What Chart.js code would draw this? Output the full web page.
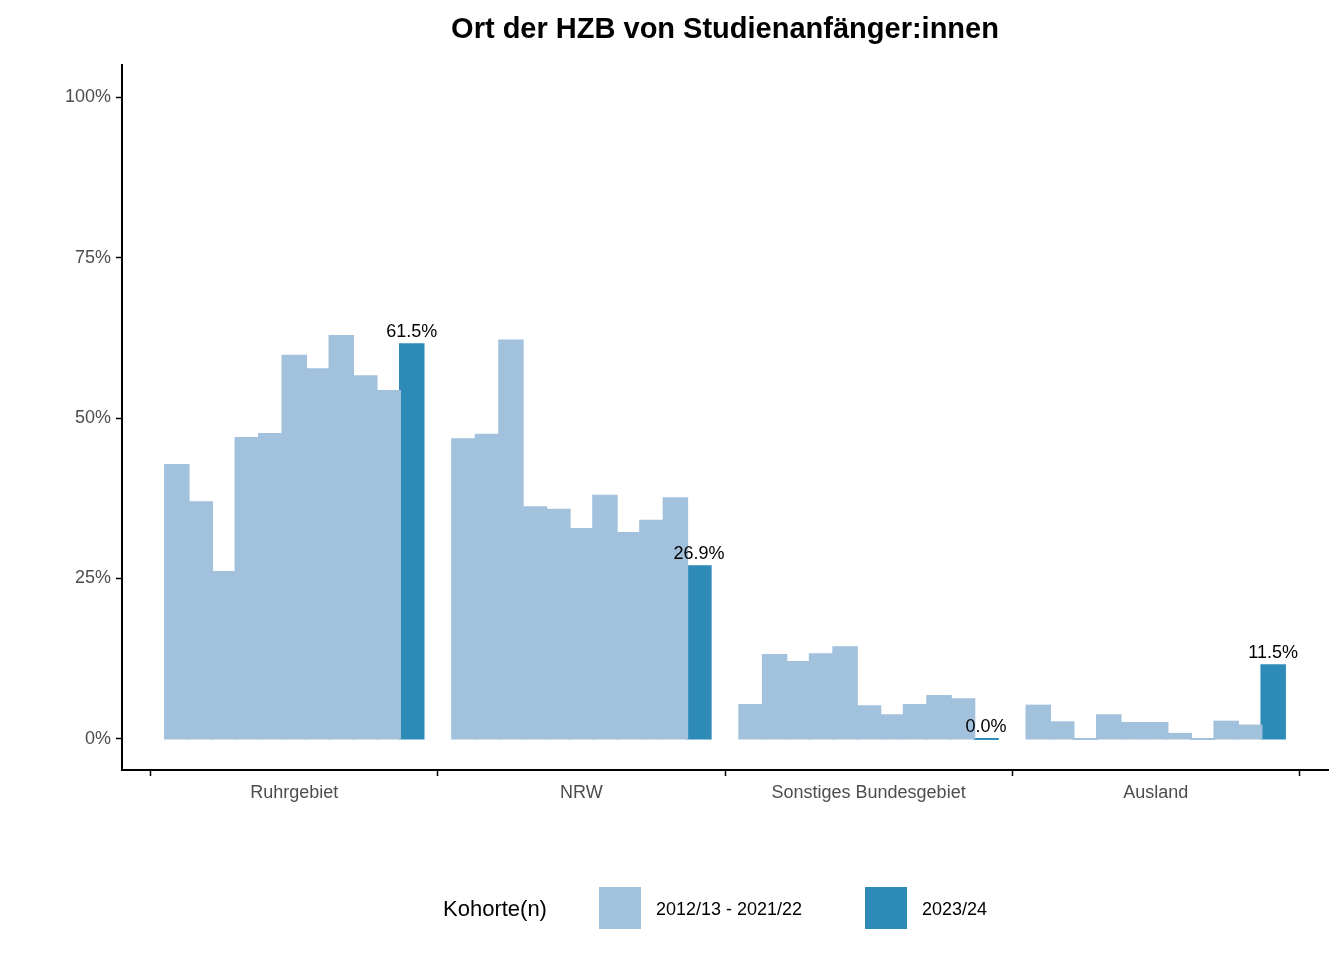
<!DOCTYPE html>
<html><head><meta charset="utf-8">
<script src="https://cdn.jsdelivr.net/npm/chart.js@4"></script>
<style>html,body{margin:0;padding:0;background:#fff}#w{width:1344px;height:960px}</style>
</head><body><div id="w"><canvas id="c"></canvas></div>
<script>
const categories = ["Ruhrgebiet","NRW","Sonstiges Bundesgebiet","Ausland"];
const cohorts = ["2012/13","2013/14","2014/15","2015/16","2016/17","2017/18","2018/19","2019/20","2020/21","2021/22","2023/24"];
const ruhr = [42.7,36.9,26.0,46.9,47.5,59.7,57.6,62.8,56.5,54.2,61.5];
const nrw = [46.7,47.4,62.1,36.1,35.7,32.7,37.9,32.1,34.0,37.5,26.9];
const sonst = [5.3,13.1,12.0,13.2,14.3,5.1,3.7,5.3,6.7,6.2,0.0];
const ausland = [5.2,2.6,0,3.7,2.5,2.5,0.8,0,2.7,2.1,11.5];
const yTicks = [0,25,50,75,100];
const legendLabels = ["2012/13 - 2021/22","2023/24"];
const light = "#A1C1DC", dark = "#2E8BB8";
const series = [ruhr,nrw,sonst,ausland];
const datasets = cohorts.map((c,i)=>({
  label:c,
  data: categories.map((_,k)=>({x:k+1,y:series[k][i]})),
  backgroundColor: i===cohorts.length-1?dark:light,
  borderWidth:0, inflateAmount:1,
  categoryPercentage:0.9, barPercentage:1, grouped:true
}));
const F='"Liberation Sans", Arial';
const deco = {id:'deco', afterDraw(ch){
  const ctx=ch.ctx, a=ch.chartArea;
  ctx.save();
  ctx.fillStyle='#000';ctx.textAlign='center';ctx.textBaseline='middle';
  ctx.font='bold 29px '+F;
  ctx.fillText("Ort der HZB von Studienanfänger:innen",(a.left+a.right)/2,30);
  const m=ch.getDatasetMeta(datasets.length-1);
  ctx.font='18px '+F;ctx.textBaseline='bottom';
  m.data.forEach((b,k)=>{ctx.fillText(series[k][cohorts.length-1].toFixed(1)+'%',b.x,b.y-3);});
  ctx.textBaseline='middle';ctx.textAlign='left';
  ctx.font='22px '+F;ctx.fillText("Kohorte(n)",443,910);
  ctx.font='18px '+F;
  ctx.fillStyle=light;ctx.fillRect(599,887,42,42);
  ctx.fillStyle=dark;ctx.fillRect(865,887,42,42);
  ctx.fillStyle='#000';
  ctx.fillText(legendLabels[0],656,910);ctx.fillText(legendLabels[1],922,910);
  ctx.restore();
}};
const gridOpt={display:true,drawOnChartArea:false,drawTicks:true,tickLength:6,tickColor:'#000',tickWidth:1.5};
new Chart(document.getElementById('c'),{
  type:'bar', data:{datasets},
  options:{responsive:true,maintainAspectRatio:false,animation:false,
    layout:{padding:{top:65,right:16,left:0,bottom:0}},
    plugins:{legend:{display:false},tooltip:{enabled:false}},
    scales:{
      x:{type:'linear',min:0.4,max:4.6,offset:false,
        afterBuildTicks(s){s.ticks=categories.map((_,k)=>({value:k+1}));},
        afterFit(s){s.height=190;},
        grid:gridOpt,
        border:{display:true,color:'#000',width:2},
        ticks:{color:'#4D4D4D',font:{size:18,family:F},padding:6,autoSkip:false,maxRotation:0,
          callback:(v)=>categories[Math.round(v)-1]}},
      y:{min:-4.83,max:105,
        afterBuildTicks(s){s.ticks=yTicks.map(v=>({value:v}));},
        afterFit(s){s.width=122;},
        grid:gridOpt,
        border:{display:true,color:'#000',width:2},
        ticks:{color:'#4D4D4D',font:{size:18,family:F},padding:5,callback:v=>v+'%'}}
    }},
  plugins:[deco]
});
</script></body></html>
